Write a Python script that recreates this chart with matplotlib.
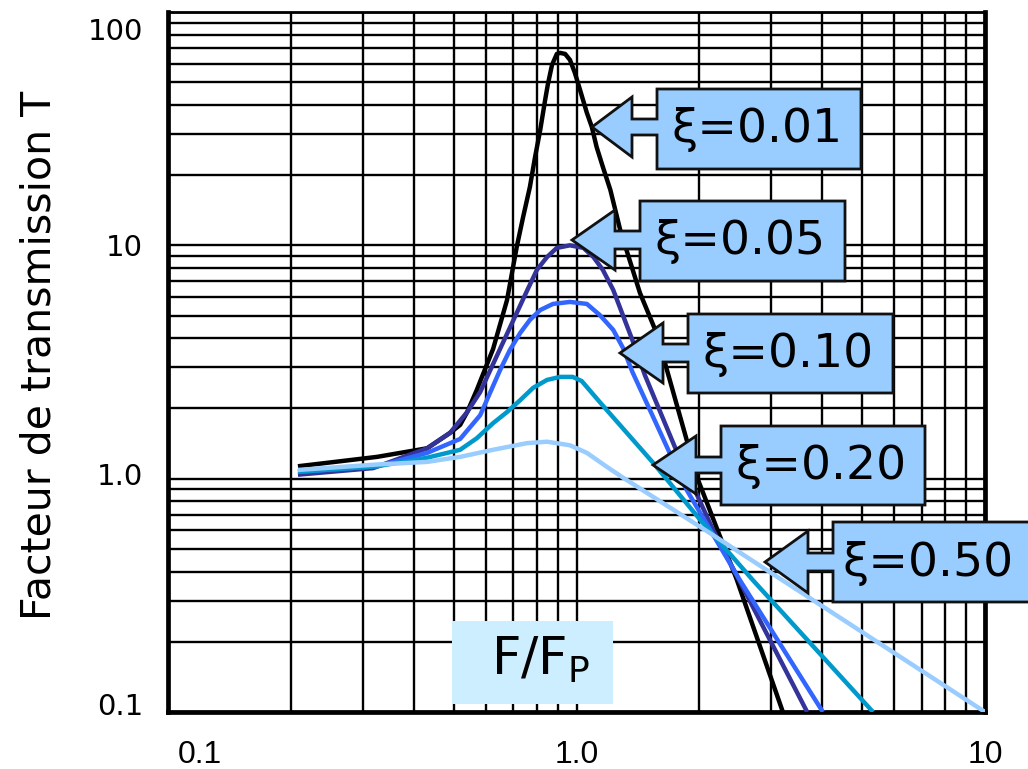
import matplotlib
matplotlib.use("Agg")
import matplotlib.pyplot as plt
from matplotlib.patches import Polygon, Rectangle
from matplotlib.transforms import ScaledTranslation

# ---- data (F/Fp, T) ----
x_001 = [0.208, 0.325, 0.431, 0.490, 0.519, 0.540, 0.570, 0.625, 0.676, 0.714, 0.740,
         0.769, 0.791, 0.815, 0.838, 0.851, 0.871, 0.895, 0.912, 0.938, 0.964, 0.991,
         1.02, 1.06, 1.09, 1.12, 1.16, 1.21, 1.28, 1.43, 1.57, 1.86, 1.97, 2.47, 3.20]
t_001 = [1.13, 1.24, 1.35, 1.57, 1.70, 1.93, 2.40, 3.60, 5.83, 9.84, 13.2,
         17.8, 23.7, 31.2, 42.0, 49.0, 59.3, 66.1, 66.8, 66.1, 62.3, 54.8,
         46.4, 37.0, 32.2, 26.4, 21.7, 17.3, 11.6, 6.25, 4.21, 1.47, 1.02, 0.368, 0.1]

x_005 = [0.208, 0.318, 0.431, 0.490, 0.540, 0.581, 0.650, 0.757, 0.800, 0.847, 0.895,
         0.964, 1.04, 1.10, 1.16, 1.23, 1.37, 1.47, 1.74, 2.16, 3.67]
t_005 = [1.04, 1.11, 1.35, 1.57, 1.93, 2.35, 3.60, 6.40, 7.85, 8.91, 9.75,
         10.0, 9.75, 8.91, 7.85, 6.44, 3.93, 2.78, 1.37, 0.603, 0.1]

x_010 = [0.208, 0.325, 0.431, 0.519, 0.581, 0.650, 0.687, 0.728, 0.769, 0.815, 0.876,
         0.964, 1.06, 1.14, 1.23, 1.30, 1.37, 1.54, 1.86, 2.51, 4.01]
t_010 = [1.07, 1.13, 1.29, 1.48, 1.87, 2.92, 3.56, 4.21, 4.79, 5.28, 5.61,
         5.72, 5.61, 5.03, 4.34, 3.63, 2.87, 1.84, 0.896, 0.368, 0.1]

x_020 = [0.208, 0.325, 0.431, 0.519, 0.570, 0.625, 0.676, 0.728, 0.783, 0.847, 0.912,
         0.979, 1.03, 1.14, 1.54, 2.01, 2.70, 5.32]
t_020 = [1.07, 1.13, 1.23, 1.33, 1.49, 1.73, 1.93, 2.17, 2.45, 2.65, 2.73,
         2.73, 2.62, 2.13, 1.17, 0.665, 0.368, 0.1]

x_050 = [0.208, 0.325, 0.431, 0.519, 0.625, 0.757, 0.847, 0.964, 1.06, 1.19, 1.30,
         2.12, 10.0]
t_050 = [1.09, 1.15, 1.18, 1.24, 1.33, 1.42, 1.44, 1.39, 1.29, 1.12, 1.01,
         0.585, 0.1]

series = [(x_001, t_001), (x_005, t_005), (x_010, t_010), (x_020, t_020), (x_050, t_050)]
labels = ["ξ=0.01", "ξ=0.05", "ξ=0.10", "ξ=0.20", "ξ=0.50"]
colors = ["#000000", "#333399", "#3366FF", "#0099CC", "#99CCFF"]

x_ticks = [0.1, 1.0, 10]
x_ticklabels = ["0.1", "1.0", "10"]
y_ticks = [0.1, 1.0, 10, 100]
y_ticklabels = ["0.1", "1.0", "10", "100"]

W, H = 1028, 769
fig = plt.figure(figsize=(W / 100, H / 100), dpi=100)
ax = fig.add_axes([168 / W, (H - 712) / H, (985 - 168) / W, (712 - 12) / H])
ax.set_xscale("log")
ax.set_yscale("log")
ax.set_xlim(0.1, 10)
ax.set_ylim(0.1, 100)

ax.grid(which="both", color="black", lw=1.7, zorder=0)
ax.set_axisbelow(True)
ax.tick_params(which="both", length=0)
ax.xaxis.set_minor_formatter(matplotlib.ticker.NullFormatter())
ax.yaxis.set_minor_formatter(matplotlib.ticker.NullFormatter())
ax.set_xticks(x_ticks, labels=x_ticklabels, fontsize=23, family="Liberation Sans")
ax.set_yticks(y_ticks, labels=y_ticklabels, fontsize=21)
ax.tick_params(axis="x", pad=20)
ax.tick_params(axis="y", pad=18)

for lab in ax.get_xticklabels():
    if lab.get_text() == "0.1":
        lab.set_transform(lab.get_transform() + ScaledTranslation(0.32, 0, fig.dpi_scale_trans))
for lab in ax.get_yticklabels():
    if lab.get_text() == "100":
        lab.set_transform(lab.get_transform() + ScaledTranslation(0, -0.17, fig.dpi_scale_trans))
    elif lab.get_text() == "1.0":
        lab.set_transform(lab.get_transform() + ScaledTranslation(0, 0.05, fig.dpi_scale_trans))
    elif lab.get_text() == "0.1":
        lab.set_transform(lab.get_transform() + ScaledTranslation(0, 0.08, fig.dpi_scale_trans))

for sp in ("left", "bottom", "right"):
    ax.spines[sp].set_linewidth(3.4)
ax.spines["top"].set_linewidth(2)

for (xs, ts), c in zip(series, colors):
    ax.plot(xs, ts, color=c, lw=3.2, solid_capstyle="butt", solid_joinstyle="round",
            zorder=3)

# ---- annotation call-outs (pixel layout) ----
def P(x, y):
    return (x / W, 1 - y / H)

callouts = [
    # box x0, y0, x1, y1, tip x, tip y, head base x, head half, shaft half
    (657, 89, 861, 169, 592, 127, 632, 30, 8),
    (640, 201, 845, 281, 572, 240, 615, 30, 9),
    (688, 314, 893, 393, 620, 353, 663, 30, 9),
    (721, 426, 925, 505, 653, 465, 696, 29, 8),
    (833, 522, 1040, 602, 765, 562, 808, 31, 9),
]
for (bx0, by0, bx1, by1, tx, ty, hb, hh, sh), txt in zip(callouts, labels):
    verts = [(tx, ty), (hb, ty - hh), (hb, ty - sh), (bx0, ty - sh), (bx0, by0),
             (bx1, by0), (bx1, by1), (bx0, by1), (bx0, ty + sh), (hb, ty + sh), (hb, ty + hh)]
    poly = Polygon([P(*v) for v in verts], closed=True, transform=fig.transFigure,
                   facecolor="#99CCFF", edgecolor="#111111", lw=2, zorder=10)
    fig.patches.append(poly)
    fig.text((bx0 + min(bx1, W)) / 2 / W - 2 / W, 1 - ((by0 + by1) / 2 + 1) / H, txt,
             fontsize=34, ha="center", va="center", zorder=11)

# F/Fp label
fig.patches.append(Rectangle(P(452, 704), (613 - 452) / W, (704 - 621) / H,
                             transform=fig.transFigure, facecolor="#CCEEFF",
                             edgecolor="none", zorder=10))
fig.text(541 / W, 1 - 660 / H, r"$\mathregular{F/F_P}$", fontsize=37,
         ha="center", va="center", zorder=11)

fig.text(40 / W, 1 - 355 / H, "Facteur de transmission T", rotation=90,
         fontsize=29.5, ha="center", va="center")

fig.savefig("out.png", dpi=100)
